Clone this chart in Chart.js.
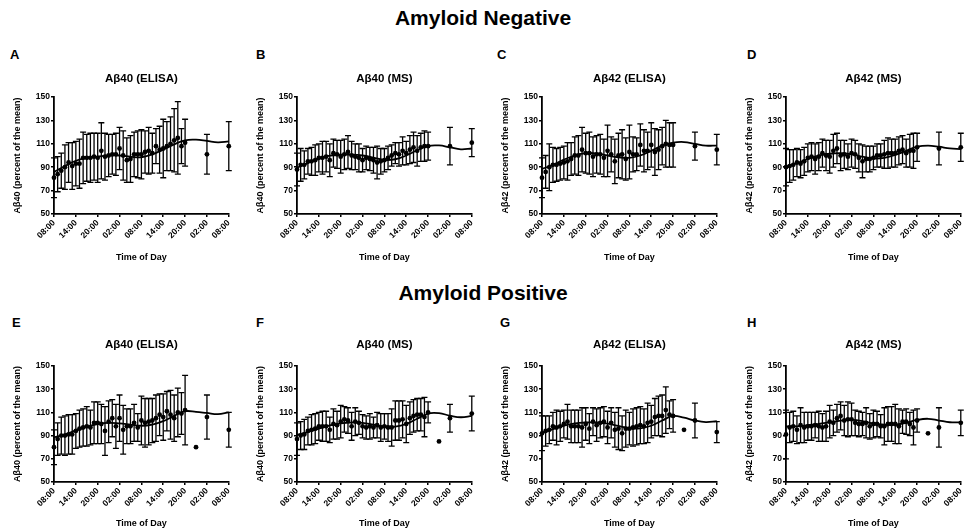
<!DOCTYPE html>
<html>
<head>
<meta charset="utf-8">
<title>Amyloid-beta diurnal pattern</title>
<script src="https://cdn.jsdelivr.net/npm/chart.js@4.4.1/dist/chart.umd.min.js"></script>
<style>
  html, body { margin: 0; padding: 0; background: #fff; overflow: hidden; }
  body { width: 966px; height: 531px; position: relative; font-family: 'Liberation Sans', Arial, sans-serif; color: #000; }
  .heading { position: absolute; left: 0; width: 966px; text-align: center; font-weight: bold; font-size: 21px; line-height: 24px; }
  .letter { position: absolute; font-weight: bold; font-size: 13px; line-height: 15px; }
  canvas { position: absolute; }
</style>
</head>
<body>
<div class="heading" style="top:6px">Amyloid Negative</div>
<div class="heading" style="top:281px">Amyloid Positive</div>

<div class="letter" style="left:10px;top:47px">A</div>
<div class="letter" style="left:256px;top:47px">B</div>
<div class="letter" style="left:497px;top:47px">C</div>
<div class="letter" style="left:747px;top:47px">D</div>
<div class="letter" style="left:12px;top:315px">E</div>
<div class="letter" style="left:256px;top:315px">F</div>
<div class="letter" style="left:500px;top:315px">G</div>
<div class="letter" style="left:747px;top:315px">H</div>

<canvas id="panelA" width="237" height="205" style="left:0px;top:60px"></canvas>
<canvas id="panelB" width="237" height="205" style="left:243px;top:60px"></canvas>
<canvas id="panelC" width="237" height="205" style="left:488px;top:60px"></canvas>
<canvas id="panelD" width="237" height="205" style="left:732px;top:60px"></canvas>
<canvas id="panelE" width="237" height="201" style="left:0px;top:330px"></canvas>
<canvas id="panelF" width="237" height="201" style="left:243px;top:330px"></canvas>
<canvas id="panelG" width="237" height="201" style="left:488px;top:330px"></canvas>
<canvas id="panelH" width="237" height="201" style="left:732px;top:330px"></canvas>

<script>
// hours since 08:00 on day 1
const sampleHours = [0, 1, 2, 3, 4, 5, 6, 7, 8, 9, 10, 11, 12, 13, 14, 15, 16, 17, 18,
  19, 20, 21, 22, 23, 24, 25, 26, 27, 28, 29, 30, 31, 32, 33, 34, 35, 36, 42, 48];
const fitHours = [0, 3, 6, 9, 12, 15, 18, 21, 24, 27, 30, 33, 36, 39, 42, 45, 48];
const tickHours = [0, 6, 12, 18, 24, 30, 36, 42, 48];
const tickLabels = ['08:00', '14:00', '20:00', '02:00', '08:00', '14:00', '20:00', '02:00', '08:00'];
const yTickValues = [50, 70, 90, 110, 130, 150];
const singleHour = 39;  // single sample (no error bar) in the amyloid positive group

// Amyloid negative
const negA40ElisaMean = [81, 84, 87, 90, 94, 91, 93, 93, 98, 98, 98, 99, 98, 104, 99, 100, 101, 101, 106,
  100, 96, 97, 101, 101, 101, 103, 104, 102, 108, 105, 106, 108, 110, 113, 115, 108, 111, 101, 108];
const negA40ElisaSD = [17, 15, 15, 19, 17, 20, 19, 21, 22, 20, 21, 20, 21, 24, 20, 18, 17, 18, 18,
  21, 19, 20, 19, 20, 21, 18, 20, 17, 15, 20, 25, 21, 23, 27, 31, 15, 20, 17, 21];
const negA40ElisaFit = [86, 91, 95.5, 98, 99, 100, 100, 99, 98.5, 101, 105, 109.5, 113, 113.5, 112.5, 111.3, 112];

const negA40MsMean = [88, 92, 92, 95, 95, 96, 98, 98, 99, 96, 102, 101, 99, 101, 103, 100, 99, 98, 96,
  98, 97, 96, 94, 95, 96, 98, 100, 102, 101, 104, 102, 105, 107, 104, 107, 108, 108, 108, 111];
const negA40MsSD = [14, 14, 12, 11, 12, 13, 12, 14, 13, 14, 12, 12, 14, 13, 14, 12, 11, 12, 10,
  10, 10, 11, 14, 11, 10, 10, 9, 9, 10, 12, 10, 12, 13, 13, 12, 13, 12, 16, 12];
const negA40MsFit = [89.5, 93.5, 97.5, 99.8, 100.7, 100.8, 100, 98.2, 96.2, 96.8, 100, 104.5, 108.2, 108.6, 107, 105.3, 106];

const negA42ElisaMean = [81, 86, 90, 92, 92, 93, 94, 95, 97, 100, 100, 105, 102, 102, 99, 101, 101, 98, 104,
  101, 95, 100, 101, 97, 103, 101, 101, 109, 104, 104, 109, 103, 105, 108, 110, 109, 109, 108, 105];
const negA42ElisaSD = [17, 14, 20, 15, 14, 14, 14, 16, 14, 16, 17, 19, 17, 18, 17, 16, 17, 16, 22,
  15, 19, 19, 21, 18, 23, 15, 14, 18, 18, 16, 19, 20, 17, 16, 20, 19, 19, 12, 13];
const negA42ElisaFit = [88.5, 92, 96.5, 100, 102, 101.8, 100, 98.5, 98, 100, 104, 108.5, 111, 111.5, 110, 108.5, 108.4];

const negA42MsMean = [90, 91, 92, 94, 93, 95, 98, 99, 97, 99, 102, 100, 99, 104, 106, 100, 101, 99, 102,
  101, 98, 95, 97, 97, 98, 100, 100, 101, 102, 102, 102, 104, 105, 102, 104, 104, 107, 106, 107];
const negA42MsSD = [16, 14, 13, 12, 12, 12, 12, 12, 13, 12, 12, 13, 14, 14, 13, 13, 12, 11, 12,
  12, 12, 14, 11, 11, 10, 10, 10, 12, 13, 12, 12, 12, 12, 12, 14, 15, 12, 14, 12];
const negA42MsFit = [90.5, 93.5, 97, 100, 101.5, 102, 101, 99, 97.5, 98, 100.5, 104, 107.5, 108.5, 107.5, 106, 105.5];

// Amyloid positive
const posA40ElisaMean = [80, 87, 90, 90, 91, 91, 94, 96, 97, 98, 97, 101, 101, 100, 94, 102, 105, 98, 105,
  95, 98, 98, 101, 97, 103, 101, 102, 103, 105, 108, 106, 111, 108, 105, 110, 109, 112, 106, 95];
const posA40ElisaSD = [15, 14, 16, 17, 17, 17, 15, 16, 16, 17, 15, 18, 18, 17, 21, 18, 16, 19, 20,
  21, 15, 15, 16, 12, 21, 21, 20, 19, 20, 18, 20, 17, 21, 20, 21, 18, 30, 19, 15];
const posA40ElisaFit = [88.5, 91, 94.5, 97.5, 100, 101, 100.5, 99.5, 98.5, 99.5, 102.5, 107, 111, 110.5, 109.5, 108.5, 110];
const posA40ElisaSingle = 80;

const posA40MsMean = [87, 90, 91, 94, 95, 96, 98, 98, 98, 95, 100, 99, 102, 104, 103, 98, 102, 101, 98,
  97, 98, 97, 99, 97, 98, 97, 97, 103, 103, 104, 100, 105, 107, 108, 108, 106, 110, 105, 109];
const posA40MsSD = [14, 12, 13, 12, 13, 13, 12, 13, 13, 11, 13, 12, 14, 11, 11, 12, 12, 10, 10,
  10, 11, 9, 11, 12, 11, 12, 16, 17, 17, 16, 16, 14, 14, 14, 14, 17, 9, 12, 15];
const posA40MsFit = [90.5, 93, 96, 98.8, 100.5, 101.3, 101, 99.5, 98, 97.8, 100, 104.5, 109, 109.3, 107.2, 105.8, 107];
const posA40MsSingle = 85;

const posA42ElisaMean = [92, 94, 95, 98, 97, 98, 100, 102, 98, 98, 98, 97, 100, 96, 102, 99, 101, 102, 97,
  101, 95, 96, 92, 96, 96, 97, 98, 99, 98, 101, 102, 106, 107, 107, 112, 108, 107, 103, 93];
const posA42ElisaSD = [15, 13, 12, 12, 15, 13, 12, 15, 14, 14, 14, 17, 14, 13, 12, 14, 13, 13, 14,
  13, 15, 18, 15, 16, 14, 16, 16, 16, 15, 17, 14, 16, 17, 18, 20, 12, 14, 15, 9];
const posA42ElisaFit = [92.5, 95.5, 98.5, 100.5, 101.3, 101.3, 100.3, 98.3, 96.3, 96.3, 98.5, 103, 107, 105.5, 103, 101.7, 102.5];
const posA42ElisaSingle = 95;

const posA42MsMean = [91, 97, 98, 95, 99, 97, 98, 98, 99, 98, 97, 98, 102, 101, 105, 107, 103, 104, 104,
  101, 100, 100, 101, 98, 100, 100, 98, 98, 100, 100, 100, 98, 102, 102, 100, 97, 103, 97, 101];
const posA42MsSD = [21, 13, 13, 12, 15, 13, 12, 12, 11, 13, 12, 13, 14, 11, 12, 12, 13, 15, 14,
  11, 11, 10, 13, 11, 12, 11, 10, 16, 15, 15, 17, 15, 10, 11, 10, 15, 10, 17, 11];
const posA42MsFit = [98, 98, 99, 100, 101.5, 103, 103.5, 102.5, 100.5, 99.5, 99.5, 101, 103.5, 104.5, 103, 101.5, 101.4];
const posA42MsSingle = 92;

const FONT = "'Liberation Sans', Arial, sans-serif";
Chart.defaults.font.family = FONT;
Chart.defaults.color = '#000';

// mean +/- SD whiskers with caps, placed through the chart's own scales
const errorBarPlugin = {
  id: 'errorBars',
  beforeDatasetsDraw(chart) {
    const { ctx, scales: { x, y } } = chart;
    chart.data.datasets.forEach((ds) => {
      if (!ds.sd) return;
      ctx.save();
      ctx.strokeStyle = '#000';
      ctx.lineWidth = 1.3;
      ds.data.forEach((p, j) => {
        if (ds.sd[j] === undefined) return;
        const px = x.getPixelForValue(p.x);
        const top = y.getPixelForValue(p.y + ds.sd[j]);
        const bot = y.getPixelForValue(p.y - ds.sd[j]);
        ctx.beginPath();
        ctx.moveTo(px, top); ctx.lineTo(px, bot);
        ctx.moveTo(px - 3, top); ctx.lineTo(px + 3, top);
        ctx.moveTo(px - 3, bot); ctx.lineTo(px + 3, bot);
        ctx.stroke();
      });
      ctx.restore();
    });
  }
};

function drawPanel(id, title, yTitle, mean, sd, fit, single, row) {
  const points = sampleHours.map((h, i) => ({ x: h, y: mean[i] }));
  if (single !== null) points.push({ x: singleHour, y: single });
  const fitLine = fitHours.map((h, i) => ({ x: h, y: fit[i] }));
  const axisFont = { family: FONT, size: 8.5, weight: 'bold' };
  const titleFont = { family: FONT, size: 9, weight: 'bold' };

  new Chart(document.getElementById(id), {
    type: 'scatter',
    data: {
      datasets: [
        {
          type: 'line',
          data: fitLine,
          borderColor: '#000',
          borderWidth: 1.8,
          pointRadius: 0,
          tension: 0.4,
          fill: false,
          clip: false
        },
        {
          data: points,
          sd: sd,
          pointRadius: 2.4,
          pointBackgroundColor: '#000',
          pointBorderWidth: 0,
          clip: false
        }
      ]
    },
    options: {
      responsive: false,
      animation: false,
      layout: { padding: { left: 0, right: 8, top: 0, bottom: 0 } },
      plugins: {
        legend: { display: false },
        tooltip: { enabled: false },
        title: {
          display: true,
          text: title,
          fullSize: false,
          color: '#000',
          font: { family: FONT, size: 11.5, weight: 'bold' },
          padding: row === 0 ? { top: 12, bottom: 11.2 } : { top: 8, bottom: 14.2 }
        }
      },
      scales: {
        x: {
          type: 'linear',
          min: 0,
          max: 48,
          afterBuildTicks: (s) => { s.ticks = tickHours.map(v => ({ value: v })); },
          afterFit: (s) => { s.height = row === 0 ? 51 : 49; },
          ticks: {
            autoSkip: false,
            minRotation: 45,
            maxRotation: 45,
            padding: 1,
            color: '#000',
            font: axisFont,
            callback: (v) => tickLabels[tickHours.indexOf(v)]
          },
          grid: { drawOnChartArea: false, drawTicks: true, tickLength: 3, color: '#000', lineWidth: 1.5 },
          border: { display: true, color: '#000', width: 1.8 },
          title: { display: true, text: 'Time of Day', color: '#000', font: titleFont, padding: { top: 4, bottom: 2 } }
        },
        y: {
          type: 'linear',
          min: 50,
          max: 150,
          afterBuildTicks: (s) => { s.ticks = yTickValues.map(v => ({ value: v })); },
          afterFit: (s) => { s.width = 54; },
          ticks: { padding: 1, color: '#000', font: axisFont },
          grid: { drawOnChartArea: false, drawTicks: true, tickLength: 3, color: '#000', lineWidth: 1.5 },
          border: { display: true, color: '#000', width: 1.8 },
          title: { display: true, text: yTitle, color: '#000', font: titleFont, padding: { top: 12, bottom: 0 } }
        }
      }
    },
    plugins: [errorBarPlugin]
  });
}

drawPanel('panelA', 'Aβ40 (ELISA)', 'Aβ40 (percent of the mean)', negA40ElisaMean, negA40ElisaSD, negA40ElisaFit, null, 0);
drawPanel('panelB', 'Aβ40 (MS)', 'Aβ40 (percent of the mean)', negA40MsMean, negA40MsSD, negA40MsFit, null, 0);
drawPanel('panelC', 'Aβ42 (ELISA)', 'Aβ42 (percent of the mean)', negA42ElisaMean, negA42ElisaSD, negA42ElisaFit, null, 0);
drawPanel('panelD', 'Aβ42 (MS)', 'Aβ42 (percent of the mean)', negA42MsMean, negA42MsSD, negA42MsFit, null, 0);
drawPanel('panelE', 'Aβ40 (ELISA)', 'Aβ40 (percent of the mean)', posA40ElisaMean, posA40ElisaSD, posA40ElisaFit, posA40ElisaSingle, 1);
drawPanel('panelF', 'Aβ40 (MS)', 'Aβ40 (percent of the mean)', posA40MsMean, posA40MsSD, posA40MsFit, posA40MsSingle, 1);
drawPanel('panelG', 'Aβ42 (ELISA)', 'Aβ42 (percent of the mean)', posA42ElisaMean, posA42ElisaSD, posA42ElisaFit, posA42ElisaSingle, 1);
drawPanel('panelH', 'Aβ42 (MS)', 'Aβ42 (percent of the mean)', posA42MsMean, posA42MsSD, posA42MsFit, posA42MsSingle, 1);
</script>
</body>
</html>
